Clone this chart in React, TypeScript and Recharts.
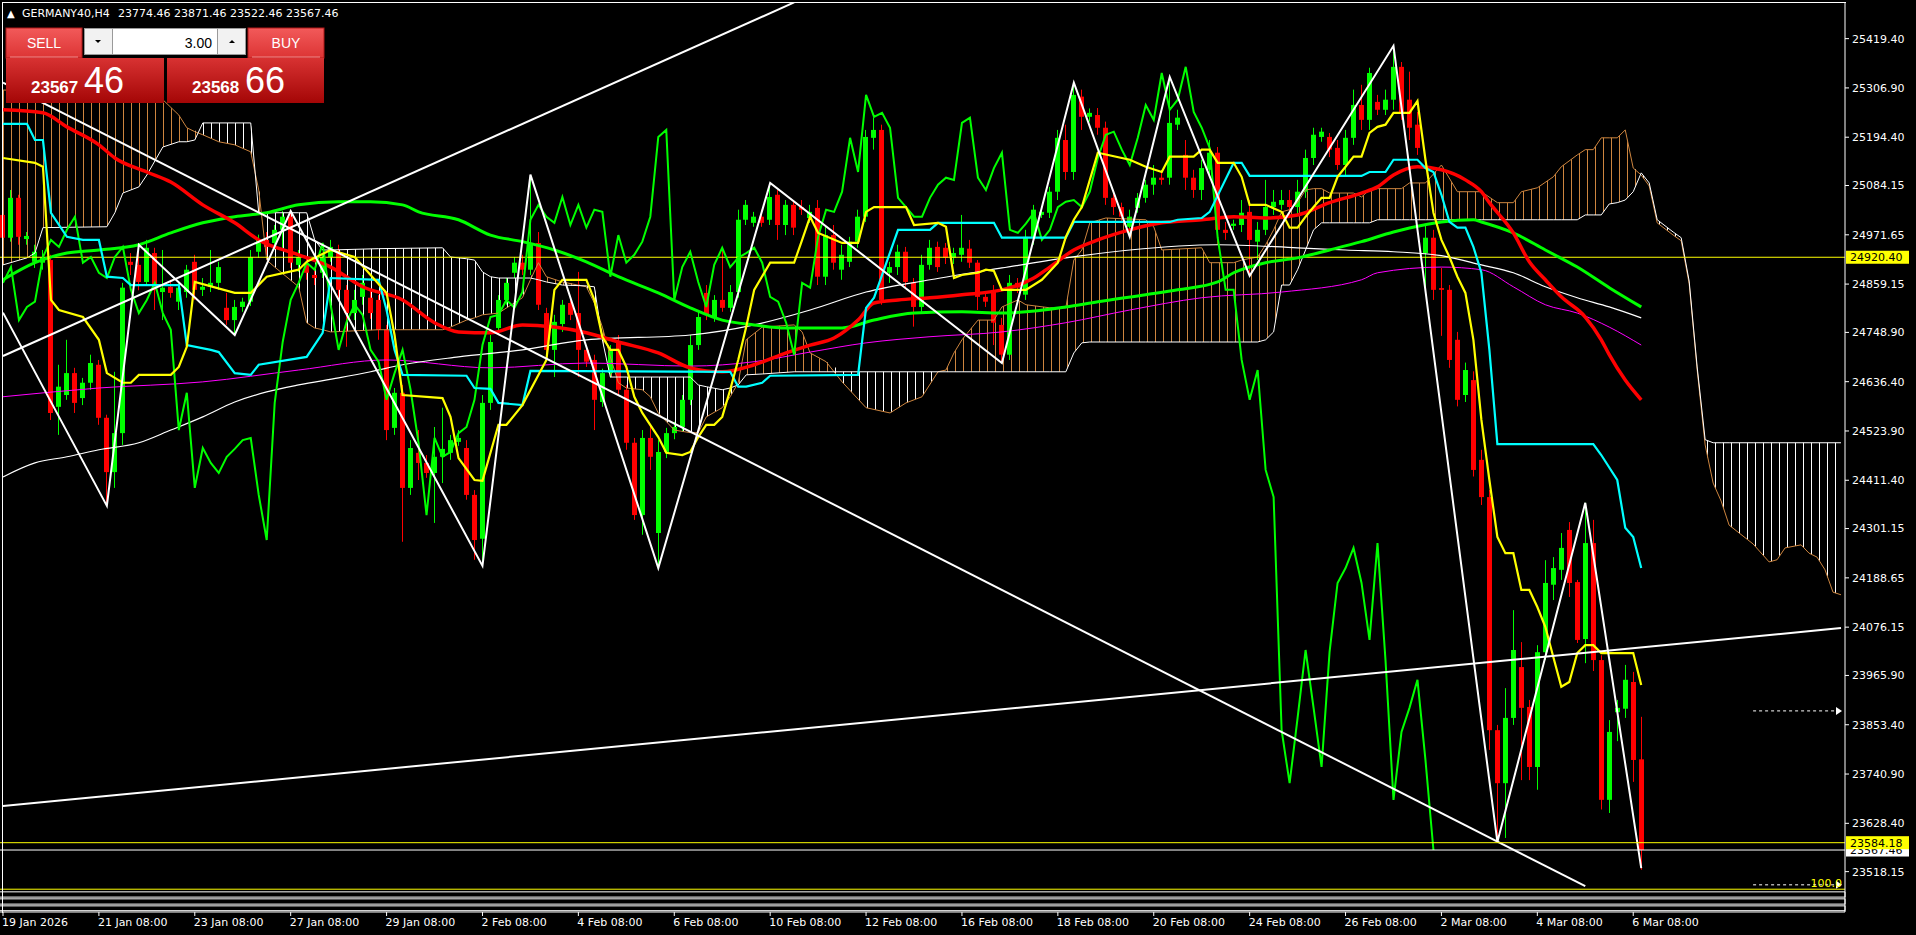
// GERMANY40 H4 – velas + medias + Ichimoku + zigzag + líneas de tendencia (Recharts).
import React from 'react';
import {
  ComposedChart,
  Bar,
  Line,
  Area,
  XAxis,
  YAxis,
  ReferenceLine,
  ReferenceArea,
} from 'recharts';

const symbol = 'GERMANY40,H4';
const lotSize = '3.00';
const askPrice = 23568.66;
const futureBars = 25; // la nube va adelantada
const chikouShift = 26;

// --- velas (índice 0 = 19 Jan 00:00, una cada 4h) ---
const openP = [
  25017, 24965, 25056, 24962, 24910, 24908, 24914, 24579, 24606, 24656,
  24599, 24634, 24675, 24554, 24430, 24519, 24910, 24903, 24864, 24930,
  24841, 24853, 24819, 24841, 24910, 24846, 24853, 24862, 24805, 24777,
  24807, 24819, 24933, 24960, 24953, 24983, 25013, 24903, 24903, 24880,
  24885, 24921, 24930, 24846, 24793, 24830, 24828, 24823, 24755, 24531,
  24611, 24394, 24474, 24451, 24428, 24465, 24474, 24499, 24485, 24378,
  24278, 24588, 24759, 24823, 24885, 24908, 24892, 24953, 24793, 24709,
  24768, 24816, 24793, 24709, 24686, 24590, 24656, 24725, 24618, 24497,
  24332, 24508, 24291, 24476, 24519, 24533, 24595, 24720, 24839, 24784,
  24823, 24805, 24841, 25006, 24999, 25013, 25006, 25063, 24994, 25040,
  25035, 25010, 25033, 24876, 24971, 24892, 24910, 24956, 25013, 25193,
  25211, 24885, 24898, 24933, 24862, 24807, 24903, 24944, 24942, 24919,
  24926, 24940, 24908, 24830, 24841, 24766, 24698, 24862, 24835, 24967,
  25017, 25022, 25070, 25188, 25115, 25287, 25241, 25245, 25216, 25056,
  25035, 24990, 25033, 25056, 25086, 25102, 25102, 25223, 25154, 25102,
  25074, 25120, 25159, 24983, 24992, 24994, 25024, 24956, 24983, 25035,
  25040, 25051, 25035, 25070, 25147, 25195, 25195, 25170, 25131, 25193,
  25268, 25234, 25275, 25257, 25280, 25355, 25280, 25223, 24930, 24965,
  24850, 24846, 24732, 24606, 24640, 24458, 24373, 23841, 23720, 23869,
  23985, 23894, 23757, 24019, 24173, 24207, 24298, 24179, 24049, 24268,
  24001, 23682, 23882, 23890, 23951, 23774.46,
];
const highP = [
  25040, 25074, 25063, 24978, 24949, 24937, 24926, 24675, 24732, 24668,
  24645, 24698, 24686, 24561, 24659, 24862, 24930, 24949, 24960, 24942,
  24937, 24869, 24864, 24903, 24926, 24873, 24937, 24910, 24839, 24823,
  24828, 24937, 24972, 24978, 24994, 25026, 25026, 24937, 24919, 24896,
  24930, 24960, 24949, 24857, 24846, 24880, 24846, 24834, 24766, 24622,
  24629, 24503, 24526, 24469, 24533, 24577, 24515, 24526, 24503, 24389,
  24606, 24743, 24834, 24873, 24921, 24926, 25108, 24978, 24805, 24789,
  24823, 24828, 24887, 24718, 24698, 24666, 24720, 24743, 24629, 24508,
  24526, 24538, 24503, 24531, 24545, 24606, 24743, 24796, 24857, 24834,
  24942, 24857, 25029, 25051, 25024, 25029, 25090, 25074, 25051, 25051,
  25051, 25040, 25051, 24994, 24994, 24949, 24967, 25029, 25211, 25239,
  25223, 24910, 24949, 24944, 24873, 24926, 24960, 24956, 24953, 24942,
  25017, 24960, 24914, 24839, 24857, 24782, 24880, 24873, 24983, 25040,
  25035, 25081, 25211, 25223, 25319, 25303, 25260, 25261, 25230, 25074,
  25045, 25029, 25067, 25097, 25131, 25115, 25332, 25257, 25188, 25120,
  25143, 25188, 25172, 25001, 25006, 25051, 25051, 25001, 25097, 25074,
  25074, 25074, 25097, 25166, 25216, 25216, 25204, 25188, 25211, 25303,
  25314, 25353, 25291, 25303, 25403, 25366, 25344, 25252, 24994, 24983,
  24896, 24857, 24750, 24680, 24660, 24481, 24389, 23853, 23937, 24115,
  24042, 23910, 24035, 24229, 24236, 24291, 24316, 24184, 24360, 24321,
  24012, 23864, 23910, 23990, 23974, 23871.46,
];
const lowP = [
  24949, 24956, 24949, 24949, 24896, 24892, 24549, 24515, 24595, 24565,
  24583, 24618, 24538, 24353, 24394, 24492, 24880, 24845, 24855, 24800,
  24777, 24828, 24800, 24828, 24823, 24832, 24841, 24846, 24766, 24743,
  24796, 24809, 24919, 24926, 24937, 24942, 24896, 24887, 24869, 24857,
  24873, 24910, 24823, 24716, 24777, 24812, 24780, 24732, 24503, 24515,
  24271, 24378, 24412, 24417, 24314, 24405, 24458, 24490, 24367, 24230,
  24216, 24572, 24743, 24812, 24873, 24880, 24880, 24800, 24698, 24647,
  24750, 24777, 24647, 24670, 24526, 24579, 24645, 24606, 24481, 24321,
  24287, 24435, 24211, 24462, 24505, 24522, 24583, 24709, 24777, 24773,
  24796, 24796, 24828, 24994, 24990, 24990, 24994, 24960, 24971, 24971,
  25017, 24999, 24857, 24857, 24892, 24869, 24898, 24942, 25001, 25166,
  24812, 24862, 24880, 24850, 24762, 24796, 24892, 24887, 24905, 24905,
  24910, 24896, 24800, 24807, 24720, 24679, 24686, 24839, 24823, 24949,
  25010, 25010, 25051, 25097, 25097, 25211, 25230, 25200, 25040, 25017,
  24999, 24967, 25022, 25045, 25063, 25086, 25086, 25211, 25074, 25056,
  25051, 25108, 24949, 24960, 24983, 24978, 24878, 24914, 24971, 25017,
  25029, 25017, 25017, 25056, 25131, 25184, 25149, 25120, 25108, 25177,
  25211, 25211, 25245, 25245, 25257, 25234, 25188, 25154, 24846, 24823,
  24741, 24668, 24580, 24590, 24420, 24355, 23796, 23586, 23595, 23853,
  23727, 23727, 23705, 24001, 24138, 24184, 24145, 24040, 23994, 23976,
  23660, 23652, 23816, 23869, 23723, 23522.46,
];
const closeP = [
  24965, 25056, 24967, 24969, 24933, 24921, 24565, 24625, 24656, 24588,
  24634, 24679, 24554, 24430, 24519, 24851, 24903, 24864, 24942, 24845,
  24851, 24839, 24851, 24892, 24846, 24853, 24862, 24898, 24777, 24807,
  24819, 24921, 24960, 24944, 24983, 25013, 24908, 24921, 24885, 24873,
  24921, 24944, 24846, 24793, 24823, 24862, 24793, 24755, 24526, 24611,
  24394, 24485, 24451, 24428, 24465, 24483, 24503, 24508, 24378, 24275,
  24588, 24727, 24823, 24862, 24908, 24892, 24953, 24812, 24709, 24773,
  24812, 24789, 24709, 24682, 24595, 24656, 24709, 24618, 24497, 24332,
  24508, 24465, 24476, 24519, 24533, 24595, 24720, 24784, 24789, 24823,
  24805, 24841, 25006, 25040, 25013, 24999, 25058, 24994, 25040, 24988,
  25029, 25024, 24876, 24971, 24908, 24926, 24956, 25013, 25195, 25211,
  24823, 24898, 24933, 24864, 24807, 24903, 24942, 24898, 24919, 24930,
  24942, 24908, 24830, 24819, 24771, 24698, 24862, 24851, 24967, 25029,
  25024, 25070, 25193, 25115, 25291, 25241, 25250, 25216, 25056, 25035,
  25013, 25013, 25056, 25086, 25102, 25097, 25227, 25239, 25102, 25074,
  25124, 25159, 24983, 24976, 24997, 25022, 24960, 24983, 25035, 25047,
  25051, 25035, 25070, 25147, 25200, 25207, 25166, 25131, 25193, 25268,
  25234, 25341, 25257, 25280, 25355, 25252, 25216, 25170, 24965, 24846,
  24846, 24686, 24595, 24663, 24435, 24373, 23841, 23720, 23869, 24024,
  23892, 23757, 24019, 24177, 24211, 24257, 24177, 24047, 24268, 24001,
  23682, 23837, 23892, 23956, 23773, 23567.46,
];

// --- medias móviles: [índice, precio] ---
const maRed: [number, number][] = [
  [0, 25257], [5, 25250], [8, 25218], [12, 25177], [14, 25147], [18, 25115], [21, 25092],
  [25, 25040], [29, 24999], [32, 24960], [37, 24926], [41, 24898], [45, 24853], [50, 24823],
  [54, 24771], [57, 24750], [61, 24748], [65, 24766], [69, 24761], [73, 24748], [77, 24727],
  [82, 24702], [86, 24668], [90, 24659], [94, 24675], [98, 24702], [101, 24720], [104, 24736],
  [107, 24777], [109, 24816], [112, 24823], [116, 24828], [120, 24835], [125, 24846],
  [129, 24873], [131, 24898], [134, 24937], [137, 24960], [141, 24983], [145, 24999],
  [150, 25006], [154, 25013], [158, 25010], [162, 25017], [166, 25045], [170, 25067],
  [172, 25081], [174, 25108], [177, 25127], [180, 25120], [183, 25097], [185, 25070],
  [186, 25045], [189, 24976], [191, 24910], [193, 24869], [195, 24830], [198, 24784],
  [200, 24732], [201, 24698], [203, 24640], [205, 24595],
];
const maGreen: [number, number][] = [
  [0, 24869], [4, 24908], [8, 24930], [12, 24937], [17, 24949], [21, 24976], [25, 24999],
  [29, 25013], [33, 25022], [37, 25040], [42, 25047], [46, 25047], [50, 25040], [52, 25024],
  [57, 25006], [61, 24971], [65, 24956], [69, 24937], [73, 24910], [77, 24876], [82, 24839],
  [86, 24805], [90, 24777], [94, 24766], [98, 24759], [105, 24759], [109, 24777],
  [114, 24793], [120, 24796], [125, 24793], [133, 24807], [137, 24819], [143, 24835],
  [147, 24846], [152, 24864], [154, 24885], [158, 24908], [162, 24919], [166, 24937],
  [170, 24956], [174, 24978], [176, 24987], [180, 25001], [184, 25006], [185, 25001],
  [189, 24976], [193, 24937], [197, 24898], [201, 24851], [205, 24807],
];
const maWhite: [number, number][] = [
  [0, 24419], [4, 24451], [8, 24465], [12, 24481], [17, 24497], [21, 24526], [25, 24556],
  [29, 24590], [33, 24613], [37, 24629], [42, 24645], [46, 24659], [50, 24675], [57, 24693],
  [65, 24709], [73, 24732], [86, 24743], [94, 24766], [101, 24800], [108, 24841],
  [116, 24869], [125, 24896], [133, 24919], [141, 24937], [152, 24949], [162, 24942],
  [168, 24937], [174, 24933], [180, 24924], [185, 24903], [189, 24885], [193, 24853],
  [197, 24828], [201, 24807], [205, 24782],
];
const maMagenta: [number, number][] = [
  [0, 24602], [12, 24622], [25, 24636], [37, 24663], [48, 24686], [61, 24668], [73, 24679],
  [86, 24672], [94, 24682], [101, 24704], [108, 24725], [116, 24739], [125, 24750],
  [133, 24771], [141, 24800], [150, 24828], [160, 24841], [170, 24869], [172, 24885],
  [180, 24898], [185, 24892], [189, 24853], [193, 24812], [197, 24793], [201, 24761],
  [205, 24720],
];

// --- Ichimoku ---
const tenkan: [number, number][] = [
  [0, 25147], [4, 25136], [5, 25127], [6, 24823], [7, 24800], [10, 24784], [12, 24732],
  [13, 24656], [15, 24634], [16, 24634], [17, 24652], [21, 24652], [22, 24670], [23, 24716],
  [24, 24864], [29, 24839], [31, 24839], [33, 24876], [37, 24892], [38, 24910], [41, 24937],
  [44, 24921], [48, 24839], [49, 24743], [50, 24606], [55, 24599], [56, 24556], [57, 24462],
  [59, 24412], [60, 24410], [62, 24538], [63, 24538], [65, 24583], [68, 24686], [69, 24846],
  [70, 24869], [73, 24869], [74, 24823], [75, 24739], [76, 24709], [77, 24709], [78, 24670],
  [79, 24602], [80, 24565], [82, 24510], [83, 24474], [85, 24469], [86, 24476], [87, 24510],
  [88, 24538], [89, 24538], [90, 24556], [91, 24618], [92, 24686], [93, 24761], [94, 24846],
  [96, 24908], [99, 24908], [100, 24960], [101, 25013], [102, 24976], [105, 24953],
  [107, 24953], [108, 25024], [109, 25035], [113, 25035], [114, 24994], [117, 24999],
  [118, 24990], [119, 24873], [120, 24880], [122, 24885], [123, 24892], [124, 24889],
  [125, 24846], [128, 24846], [130, 24869], [132, 24908], [133, 24967], [134, 25006],
  [135, 25035], [137, 25159], [141, 25143], [143, 25127], [145, 25115], [146, 25150],
  [149, 25150], [150, 25166], [151, 25166], [152, 25136], [154, 25136], [155, 25104],
  [156, 25040], [158, 25040], [160, 25024], [161, 24988], [162, 24988], [163, 25013],
  [164, 25035], [165, 25056], [166, 25056], [167, 25104], [168, 25127], [169, 25150],
  [170, 25150], [171, 25204], [172, 25218], [173, 25223], [174, 25250], [176, 25250],
  [177, 25277], [178, 25143], [179, 25022], [180, 24960], [181, 24921], [182, 24876],
  [183, 24839], [184, 24732], [185, 24549], [186, 24412], [187, 24282], [188, 24245],
  [189, 24245], [190, 24161], [191, 24161], [192, 24122], [193, 24077], [194, 24008],
  [195, 23940], [196, 23951], [197, 24017], [198, 24035], [199, 24035], [200, 24017],
  [204, 24017], [205, 23944],
];
const kijun: [number, number][] = [
  [0, 25225], [3, 25225], [4, 25188], [5, 25188], [6, 25022], [8, 24967], [10, 24960],
  [12, 24960], [13, 24876], [15, 24873], [16, 24857], [22, 24857], [23, 24720], [26, 24709],
  [27, 24704], [29, 24656], [31, 24652], [32, 24675], [38, 24693], [40, 24748], [41, 24873],
  [47, 24869], [48, 24800], [49, 24709], [50, 24652], [58, 24650], [59, 24622], [61, 24620],
  [62, 24588], [65, 24583], [66, 24661], [91, 24659], [92, 24625], [93, 24625], [95, 24634],
  [96, 24650], [107, 24652], [108, 24805], [109, 24828], [112, 24983], [116, 24983],
  [117, 24999], [124, 24999], [125, 24965], [133, 24965], [134, 25001], [146, 25001],
  [147, 25006], [150, 25010], [151, 25024], [154, 25136], [155, 25136], [156, 25106],
  [170, 25106], [171, 25115], [173, 25115], [174, 25143], [177, 25143], [178, 25124],
  [179, 25115], [180, 25063], [181, 25001], [182, 24988], [183, 24988], [184, 24944],
  [185, 24885], [186, 24709], [187, 24494], [199, 24494], [200, 24469], [202, 24412],
  [203, 24303], [204, 24282], [205, 24211],
];
// [índice, senkou A, senkou B]
const cloud: [number, number, number][] = [
  [0, 25302, 24903], [3, 25302, 24919], [4, 25302, 24930], [5, 25302, 24988],
  [13, 25298, 24990], [14, 25296, 25022], [15, 25293, 25067], [17, 25289, 25081],
  [18, 25286, 25108], [20, 25280, 25172], [22, 25245, 25184], [23, 25216, 25184],
  [24, 25207, 25188], [25, 25200, 25227], [27, 25184, 25227], [29, 25177, 25227],
  [31, 25161, 25227], [32, 25074, 25022], [33, 24914, 25022], [34, 24898, 25022],
  [37, 24853, 25022], [38, 24771, 25022], [39, 24759, 24960], [40, 24755, 24937],
  [41, 24750, 24937], [47, 24755, 24940], [55, 24755, 24942], [56, 24761, 24921],
  [58, 24777, 24917], [59, 24782, 24914], [60, 24789, 24887], [61, 24791, 24876],
  [62, 24793, 24873], [65, 24828, 24873], [66, 24869, 24873], [67, 24908, 24869],
  [68, 24876, 24864], [70, 24864, 24857], [73, 24853, 24855], [74, 24816, 24853],
  [75, 24761, 24732], [76, 24693, 24647], [77, 24634, 24647], [78, 24622, 24647],
  [80, 24618, 24647], [81, 24602, 24647], [82, 24565, 24647], [84, 24526, 24647],
  [86, 24520, 24647], [87, 24520, 24629], [88, 24556, 24625], [90, 24577, 24618],
  [91, 24602, 24622], [92, 24634, 24629], [93, 24732, 24652], [95, 24761, 24654],
  [99, 24766, 24659], [100, 24750, 24659], [101, 24702, 24659], [103, 24682, 24659],
  [105, 24636, 24659], [108, 24577, 24659], [111, 24565, 24659], [113, 24588, 24659],
  [115, 24602, 24659], [117, 24659, 24659], [118, 24663, 24659], [119, 24702, 24659],
  [120, 24732, 24659], [122, 24777, 24659], [124, 24777, 24659], [125, 24807, 24659],
  [127, 24823, 24659], [128, 24812, 24659], [131, 24805, 24659], [133, 24805, 24659],
  [134, 24914, 24702], [135, 24937, 24725], [136, 24999, 24727], [138, 25010, 24727],
  [143, 25006, 24727], [144, 24990, 24727], [145, 24937, 24727], [150, 24942, 24727],
  [151, 24908, 24727], [154, 24908, 24727], [155, 24914, 24727], [157, 24921, 24727],
  [158, 24949, 24732], [159, 24983, 24750], [160, 25024, 24857], [161, 25029, 24857],
  [162, 25045, 24892], [163, 25074, 24937], [164, 25077, 24983], [165, 25077, 24999],
  [166, 25067, 24999], [169, 25067, 24999], [170, 25058, 24999], [171, 25074, 24999],
  [172, 25077, 25006], [175, 25077, 25006], [176, 25090, 25006], [178, 25090, 25006],
  [180, 25131, 25006], [182, 25070, 25006], [185, 25070, 25006], [187, 25045, 25006],
  [189, 25045, 25006], [190, 25070, 25006], [192, 25079, 25006], [194, 25104, 25006],
  [195, 25127, 25006], [197, 25154, 25006], [198, 25166, 25017], [199, 25166, 25017],
  [200, 25193, 25017], [201, 25193, 25042], [202, 25193, 25045], [203, 25211, 25051],
  [204, 25124, 25070], [205, 25108, 25113], [206, 25083, 25090], [207, 24999, 25006],
  [209, 24971, 24978], [210, 24958, 24965], [211, 24860, 24866], [212, 24663, 24670],
  [213, 24492, 24504], [214, 24405, 24497], [215, 24364, 24497], [216, 24309, 24497],
  [219, 24266, 24497], [221, 24225, 24497], [222, 24230, 24497], [223, 24257, 24497],
  [225, 24264, 24497], [226, 24245, 24497], [227, 24236, 24497], [228, 24207, 24497],
  [229, 24156, 24497], [230, 24150, 24497],
];

// --- zigzag y líneas dibujadas ---
const zigzag: [number, number][] = [
  [0, 24794], [13, 24353], [17, 24949], [29, 24743], [36, 25026], [60, 24216],
  [66, 25109], [82, 24211], [96, 25090], [125, 24679], [134, 25319], [141, 24967],
  [146, 25332], [156, 24878], [174, 25403], [187, 23586], [198, 24360], [205, 23526],
];
const trendShort: [number, number][] = [[0, 24695], [99, 25502]];
const trendDown: [number, number][] = [[0, 25319], [198, 23485]];
const trendLong: [number, number][] = [[0, 23668], [230, 24074]];

const levelYellow = 24920.4;
const levelLow = 23584.18;
const arrowLevel = 23885;
const fiboLevel = 23488;
const baseLine = 23478;
const bottomBoxes: [number, number][] = [[23460, 23472], [23444, 23456], [23429, 23440]];

const dateTicks = [0, 12, 24, 36, 48, 60, 72, 84, 96, 108, 120, 132, 144, 156, 168, 180, 192, 204];
const dateLabels = [
  '19 Jan 2026', '21 Jan 08:00', '23 Jan 08:00', '27 Jan 08:00', '29 Jan 08:00', '2 Feb 08:00',
  '4 Feb 08:00', '6 Feb 08:00', '10 Feb 08:00', '12 Feb 08:00', '16 Feb 08:00', '18 Feb 08:00',
  '20 Feb 08:00', '24 Feb 08:00', '26 Feb 08:00', '2 Mar 08:00', '4 Mar 08:00', '6 Mar 08:00',
];
const priceTicks = [
  25419.4, 25306.9, 25194.4, 25084.15, 24971.65, 24859.15, 24748.9, 24636.4, 24523.9,
  24411.4, 24301.15, 24188.65, 24076.15, 23965.9, 23853.4, 23740.9, 23628.4, 23518.15,
];

// --- tabla para Recharts ---
const rows: any[] = Array.from({ length: closeP.length + futureBars }, (_, i) => ({ i }));
closeP.forEach((c, i) => {
  rows[i].o = openP[i];
  rows[i].h = highP[i];
  rows[i].l = lowP[i];
  rows[i].c = c;
  if (i >= chikouShift) rows[i - chikouShift].chikou = c;
});
const put = (key: string, pts: [number, number][]) => pts.forEach(([i, v]) => (rows[i][key] = v));
put('red', maRed);
put('green', maGreen);
put('white', maWhite);
put('magenta', maMagenta);
put('tenkan', tenkan);
put('kijun', kijun);
put('zz', zigzag);
put('tl1', trendShort);
put('tl2', trendDown);
put('tl3', trendLong);
cloud.forEach(([i, a, b]) => {
  rows[i].spanA = a;
  rows[i].spanB = b;
});

const font = '"DejaVu Sans", sans-serif';
const fmt = (v: number) => v.toFixed(2);

function Candle(props: any) {
  const { x, y, width, height, payload } = props;
  if (!payload || payload.c == null || height == null) return null;
  const top = Math.min(y, y + height);
  const span = Math.abs(height);
  const k = span / (payload.h - payload.l);
  const cx = Math.floor(x + width / 2) + 0.5;
  const yo = top + (payload.h - payload.o) * k;
  const yc = top + (payload.h - payload.c) * k;
  const col = payload.c >= payload.o ? '#00ff00' : '#ff0000';
  return (
    <g>
      <line x1={cx} x2={cx} y1={top} y2={top + span} stroke={col} strokeWidth={1} />
      <rect x={cx - 2.5} y={Math.min(yo, yc)} width={5} height={Math.max(1, Math.abs(yc - yo))} fill={col} />
    </g>
  );
}

function PriceTag(props: any) {
  const { viewBox, text, bg } = props;
  if (!viewBox) return null;
  const x = viewBox.x + viewBox.width + 1;
  const y = viewBox.y;
  return (
    <g>
      <rect x={x} y={y - 6.5} width={63} height={13} fill={bg} />
      <text x={x + 4} y={y + 4} fill="#000" fontSize={11} fontFamily={font}>{text}</text>
    </g>
  );
}

function DashArrow(props: any) {
  const { x1, y1, x2, y2, note } = props;
  return (
    <g>
      <line x1={x1} y1={y1} x2={x2 - 3} y2={y2} stroke="#fff" strokeDasharray="3 3" />
      <path d={`M${x2 - 5},${y2 - 4} L${x2 + 1},${y2} L${x2 - 5},${y2 + 4} Z`} fill="#fff" />
      {note && (
        <text x={x2 + 1} y={y2 + 2} fill="#ffff00" fontSize={11} fontFamily={font} textAnchor="end">{note}</text>
      )}
    </g>
  );
}

function XTick(props: any) {
  const { x, y, payload } = props;
  const k = dateTicks.indexOf(payload.value);
  return (
    <text x={x - 1} y={y} dy="0.72em" fill="#fff" fontSize={11} fontFamily={font} textAnchor="start">
      {dateLabels[k]}
    </text>
  );
}

const brownBand = (d: any) => (d.spanA == null ? null : [d.spanB, Math.max(d.spanA, d.spanB)]);
const whiteBand = (d: any) => (d.spanA == null ? null : [d.spanA, Math.max(d.spanA, d.spanB)]);
const candleRange = (d: any) => (d.c == null ? null : [d.l, d.h]);

function TradePanel() {
  const last = closeP.length - 1;
  const bid = fmt(closeP[last]);
  const ask = fmt(askPrice);
  const head = `${fmt(openP[last])} ${fmt(highP[last])} ${fmt(lowP[last])} ${fmt(closeP[last])}`;
  const pf = '"Liberation Sans", Arial, sans-serif';
  return (
    <svg width={360} height={110} style={{ position: 'absolute', left: 0, top: 0 }}>
      <defs>
        <linearGradient id="btnTop" x1="0" y1="0" x2="0" y2="1">
          <stop offset="0" stopColor="#f25a5a" />
          <stop offset="1" stopColor="#dc3434" />
        </linearGradient>
        <linearGradient id="btnLow" x1="0" y1="0" x2="0" y2="1">
          <stop offset="0" stopColor="#d83232" />
          <stop offset="1" stopColor="#a40606" />
        </linearGradient>
      </defs>
      <text x={7} y={17} fill="#fff" fontSize={10} fontFamily={font}>▲</text>
      <text x={22} y={17} fill="#fff" fontSize={11} fontFamily={font}>{symbol}</text>
      <text x={118} y={17} fill="#fff" fontSize={11} fontFamily={font}>{head}</text>

      <rect x={6} y={28} width={76} height={30} fill="url(#btnTop)" stroke="#b01818" />
      <rect x={248} y={28} width={76} height={30} fill="url(#btnTop)" stroke="#b01818" />
      <line x1={10} y1={57} x2={78} y2={57} stroke="#f08a8a" />
      <line x1={252} y1={57} x2={320} y2={57} stroke="#f08a8a" />
      <rect x={6} y={58} width={158} height={45} fill="url(#btnLow)" />
      <rect x={167} y={58} width={157} height={45} fill="url(#btnLow)" />

      <rect x={84.5} y={28.5} width={161} height={26} fill="#fff" stroke="#9a9a9a" />
      <rect x={84.5} y={28.5} width={28} height={26} fill="#f2f2f2" stroke="#9a9a9a" />
      <rect x={217.5} y={28.5} width={28} height={26} fill="#f2f2f2" stroke="#9a9a9a" />
      <path d="M95,40 L101,40 L98,43 Z" fill="#000" />
      <path d="M229,43 L235,43 L232,40 Z" fill="#000" />

      <text x={44} y={48} fill="#fff" fontSize={14} fontFamily={pf} textAnchor="middle">SELL</text>
      <text x={286} y={48} fill="#fff" fontSize={14} fontFamily={pf} textAnchor="middle">BUY</text>
      <text x={212} y={48} fill="#000" fontSize={14} fontFamily={pf} textAnchor="end">{lotSize}</text>

      <text x={31} y={93} fill="#fff" fontSize={17} fontWeight="bold" fontFamily={pf}>{bid.slice(0, -3)}</text>
      <text x={84} y={93} fill="#fff" fontSize={36} fontFamily={pf}>{bid.slice(-2)}</text>
      <text x={192} y={93} fill="#fff" fontSize={17} fontWeight="bold" fontFamily={pf}>{ask.slice(0, -3)}</text>
      <text x={245} y={93} fill="#fff" fontSize={36} fontFamily={pf}>{ask.slice(-2)}</text>
    </svg>
  );
}

export default function App() {
  return (
    <div style={{ position: 'absolute', left: 0, top: 0, width: 1916, height: 935, background: '#000', overflow: 'hidden' }}>
      <div style={{ position: 'absolute', left: -1, top: 0 }}>
        <ComposedChart width={1917} height={935} data={rows} margin={{ top: 2, right: 0, bottom: 0, left: 0 }}>
          <defs>
            <pattern id="hatchBrown" patternUnits="userSpaceOnUse" x={4} y={0} width={8} height={8}>
              <line x1={0.5} y1={0} x2={0.5} y2={8} stroke="#cd853f" strokeWidth={1} />
            </pattern>
            <pattern id="hatchWhite" patternUnits="userSpaceOnUse" x={4} y={0} width={8} height={8}>
              <line x1={0.5} y1={0} x2={0.5} y2={8} stroke="#ffffff" strokeWidth={1} />
            </pattern>
          </defs>
          <XAxis
            dataKey="i"
            type="category"
            ticks={dateTicks}
            interval={0}
            height={23}
            tick={<XTick />}
            tickSize={4}
            tickMargin={2}
            axisLine={{ stroke: '#fff' }}
            tickLine={{ stroke: '#fff' }}
          />
          <YAxis
            orientation="right"
            type="number"
            domain={[23426, 25503]}
            allowDataOverflow
            ticks={priceTicks}
            interval={0}
            width={71}
            tickFormatter={fmt}
            tick={{ fill: '#fff', fontSize: 11, fontFamily: font }}
            tickSize={4}
            tickMargin={3}
            axisLine={{ stroke: '#fff' }}
            tickLine={{ stroke: '#fff' }}
          />

          {bottomBoxes.map(([a, b], k) => (
            <ReferenceArea key={k} y1={a} y2={b} fill="none" stroke="#fff" strokeWidth={1} fillOpacity={0} />
          ))}
          <ReferenceLine y={baseLine} stroke="#ffff00" />

          <Area dataKey={brownBand} type="linear" stroke="none" fill="url(#hatchBrown)" fillOpacity={1} connectNulls dot={false} activeDot={false} isAnimationActive={false} />
          <Area dataKey={whiteBand} type="linear" stroke="none" fill="url(#hatchWhite)" fillOpacity={1} connectNulls dot={false} activeDot={false} isAnimationActive={false} />
          <Line dataKey="spanA" type="linear" stroke="#cd853f" strokeWidth={1} dot={false} activeDot={false} connectNulls isAnimationActive={false} />
          <Line dataKey="spanB" type="linear" stroke="#ffffff" strokeWidth={1} dot={false} activeDot={false} connectNulls isAnimationActive={false} />

          <ReferenceLine y={levelYellow} stroke="#ffff00" label={<PriceTag text={fmt(levelYellow)} bg="#ffff00" />} />

          <Bar dataKey={candleRange} shape={(p: any) => <Candle {...p} />} isAnimationActive={false} />

          <Line dataKey="magenta" type="monotone" stroke="#ff00ff" strokeWidth={1} dot={false} activeDot={false} connectNulls isAnimationActive={false} />
          <Line dataKey="white" type="monotone" stroke="#ffffff" strokeWidth={1.2} dot={false} activeDot={false} connectNulls isAnimationActive={false} />
          <Line dataKey="green" type="monotone" stroke="#00ff00" strokeWidth={3} dot={false} activeDot={false} connectNulls isAnimationActive={false} />
          <Line dataKey="red" type="monotone" stroke="#ff0000" strokeWidth={3.5} dot={false} activeDot={false} connectNulls isAnimationActive={false} />
          <Line dataKey="chikou" type="linear" stroke="#00ff00" strokeWidth={2} dot={false} activeDot={false} connectNulls isAnimationActive={false} />
          <Line dataKey="kijun" type="linear" stroke="#00ffff" strokeWidth={2.2} dot={false} activeDot={false} connectNulls isAnimationActive={false} />
          <Line dataKey="tenkan" type="linear" stroke="#ffff00" strokeWidth={2.2} dot={false} activeDot={false} connectNulls isAnimationActive={false} />

          <Line dataKey="zz" type="linear" stroke="#ffffff" strokeWidth={2} dot={false} activeDot={false} connectNulls isAnimationActive={false} />
          <Line dataKey="tl1" type="linear" stroke="#ffffff" strokeWidth={2} dot={false} activeDot={false} connectNulls isAnimationActive={false} />
          <Line dataKey="tl2" type="linear" stroke="#ffffff" strokeWidth={2} dot={false} activeDot={false} connectNulls isAnimationActive={false} />
          <Line dataKey="tl3" type="linear" stroke="#ffffff" strokeWidth={2} dot={false} activeDot={false} connectNulls isAnimationActive={false} />

          <ReferenceLine
            segment={[{ x: 219, y: arrowLevel }, { x: 230, y: arrowLevel }]}
            shape={(p: any) => <DashArrow {...p} />}
          />
          <ReferenceLine
            segment={[{ x: 219, y: fiboLevel }, { x: 230, y: fiboLevel }]}
            shape={(p: any) => <DashArrow {...p} note="100.0" />}
          />
          <ReferenceLine y={closeP[closeP.length - 1]} stroke="#ffffff" label={<PriceTag text={fmt(closeP[closeP.length - 1])} bg="#ffffff" />} />
          <ReferenceLine y={levelLow} stroke="#ffff00" label={<PriceTag text={fmt(levelLow)} bg="#ffff00" />} />
        </ComposedChart>
      </div>
      <div style={{ position: 'absolute', left: 2, top: 2, width: 1843, height: 910, borderLeft: '1px solid #fff', borderTop: '1px solid #fff', pointerEvents: 'none' }} />
      <TradePanel />
    </div>
  );
}
